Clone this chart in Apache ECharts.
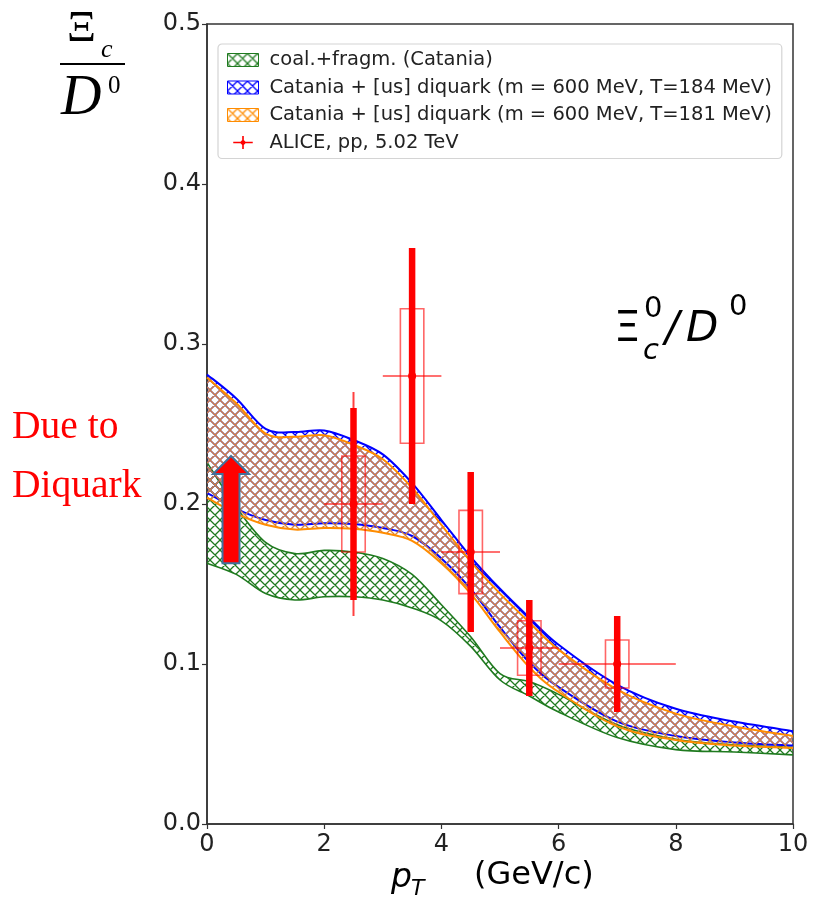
<!DOCTYPE html>
<html>
<head>
<meta charset="utf-8">
<script src="https://cdn.jsdelivr.net/npm/echarts@6/dist/echarts.min.js"></script>
<style>
  html, body { margin: 0; padding: 0; background: #fff; }
  #chart { width: 818px; height: 901px; }
</style>
</head>
<body>
<div id="chart"></div>
<script>
// pT grid (GeV/c) on which the model bands are sampled
const ptGrid = [0, 0.5, 1, 1.5, 2, 2.5, 3, 3.5, 4, 4.5, 5, 5.5, 6, 7, 8, 9, 10];

// coal.+fragm. (Catania)
const coalLow  = [0.163, 0.156, 0.144, 0.140, 0.142, 0.142, 0.140, 0.135, 0.127, 0.111, 0.090, 0.080, 0.070, 0.054, 0.0465, 0.045, 0.0432];
const coalHigh = [0.226, 0.198, 0.176, 0.169, 0.171, 0.170, 0.166, 0.156, 0.137, 0.117, 0.094, 0.089, 0.081, 0.062, 0.053, 0.0495, 0.048];

// Catania + [us] diquark, T = 184 MeV
const dq184Low  = [0.207, 0.197, 0.190, 0.187, 0.188, 0.1875, 0.185, 0.180, 0.166, 0.147, 0.123, 0.101, 0.0855, 0.064, 0.055, 0.051, 0.049];
const dq184High = [0.281, 0.266, 0.247, 0.245, 0.246, 0.240, 0.231, 0.213, 0.190, 0.167, 0.147, 0.129, 0.112, 0.087, 0.072, 0.064, 0.058];

// Catania + [us] diquark, T = 181 MeV
const dq181Low  = [0.204, 0.194, 0.187, 0.184, 0.185, 0.1845, 0.182, 0.177, 0.163, 0.144, 0.120, 0.098, 0.0825, 0.061, 0.0525, 0.049, 0.0475];
const dq181High = [0.279, 0.263, 0.244, 0.242, 0.243, 0.237, 0.228, 0.210, 0.187, 0.164, 0.144, 0.126, 0.109, 0.084, 0.069, 0.061, 0.055];

// ALICE, pp, 5.02 TeV
const alicePt     = [2.5, 3.5, 4.5, 5.5, 7.0];
const alicePtErr  = [0.5, 0.5, 0.5, 0.5, 1.0];
const aliceVal    = [0.20, 0.28, 0.17, 0.11, 0.10];
const aliceStat   = [0.06, 0.08, 0.05, 0.03, 0.03];
const aliceSyst   = [0.03, 0.042, 0.026, 0.017, 0.015];
const aliceTotal  = [0.07, 0, 0, 0, 0];

// tick labels
const xTickLabels = ['0', '2', '4', '6', '8', '10'];
const yTickLabels = ['0.0', '0.1', '0.2', '0.3', '0.4', '0.5'];

const NAME_COAL  = 'coal.+fragm. (Catania)';
const NAME_184   = 'Catania + [us] diquark (m = 600 MeV, T=184 MeV)';
const NAME_181   = 'Catania + [us] diquark (m = 600 MeV, T=181 MeV)';
const NAME_ALICE = 'ALICE, pp, 5.02 TeV';

const GREEN = '#1f7a1f', BLUE = '#0000ff', ORANGE = '#ff8c00', RED = '#ff0000';
const SYST_HALF_WIDTH = 0.2;

// cross-hatch fill ("xxx") as a repeating canvas pattern
function hatch(color) {
  const s = 10;
  const c = document.createElement('canvas');
  c.width = s; c.height = s;
  const g = c.getContext('2d');
  g.strokeStyle = color;
  g.lineWidth = 1.3;
  g.beginPath();
  for (let k = -1; k <= 1; k++) {
    g.moveTo(k * s - 1, -1); g.lineTo(k * s + s + 1, s + 1);
    g.moveTo(k * s - 1, s + 1); g.lineTo(k * s + s + 1, -1);
  }
  g.stroke();
  return { image: c, repeat: 'repeat' };
}

const fillCoal = hatch(GREEN);
const fill184 = hatch(BLUE);
const fill181 = hatch('#d8823a');       // orange hatch laid over the blue one
const swatch181 = hatch(ORANGE);

// Catmull-Rom curve through pixel points, as SVG path commands
function curve(pts, start) {
  let d = (start ? 'M' : 'L') + pts[0][0] + ',' + pts[0][1];
  for (let i = 0; i < pts.length - 1; i++) {
    const p0 = pts[i - 1] || pts[i], p1 = pts[i], p2 = pts[i + 1], p3 = pts[i + 2] || pts[i + 1];
    const c1x = p1[0] + (p2[0] - p0[0]) / 6, c1y = p1[1] + (p2[1] - p0[1]) / 6;
    const c2x = p2[0] - (p3[0] - p1[0]) / 6, c2y = p2[1] - (p3[1] - p1[1]) / 6;
    d += 'C' + c1x + ',' + c1y + ',' + c2x + ',' + c2y + ',' + p2[0] + ',' + p2[1];
  }
  return d;
}

// hatched band between two curves, edges stroked in the band colour
function bandSeries(name, low, high, color, fill, width, z) {
  return {
    name, type: 'custom', silent: true, z,
    itemStyle: { color },
    data: [[ptGrid[0], low[0]]],
    renderItem(params, api) {
      const up = ptGrid.map((x, i) => api.coord([x, high[i]]));
      const lo = ptGrid.map((x, i) => api.coord([x, low[i]]));
      const area = curve(up, true) + curve(lo.slice().reverse(), false) + 'Z';
      return {
        type: 'group',
        children: [
          { type: 'path', shape: { pathData: area }, style: { fill: fill, stroke: null } },
          { type: 'path', shape: { pathData: curve(up, true) }, style: { fill: null, stroke: color, lineWidth: width } },
          { type: 'path', shape: { pathData: curve(lo, true) }, style: { fill: null, stroke: color, lineWidth: width } }
        ]
      };
    }
  };
}

const aliceSeries = {
  name: NAME_ALICE,
  type: 'custom',
  silent: true,
  z: 5,
  itemStyle: { color: RED },
  data: alicePt.map((x, i) => [x, aliceVal[i], alicePtErr[i], aliceStat[i], aliceSyst[i], aliceTotal[i]]),
  renderItem(params, api) {
    const x = api.value(0), y = api.value(1);
    const ex = api.value(2), st = api.value(3), sy = api.value(4), tot = api.value(5);
    const c = api.coord([x, y]);
    const kids = [];
    const b1 = api.coord([x - SYST_HALF_WIDTH, y + sy]);
    const b2 = api.coord([x + SYST_HALF_WIDTH, y - sy]);
    kids.push({ type: 'rect', shape: { x: b1[0], y: b1[1], width: b2[0] - b1[0], height: b2[1] - b1[1] },
      style: { fill: 'none', stroke: 'rgba(255,0,0,0.6)', lineWidth: 1.6 } });
    const h1 = api.coord([x - ex, y]), h2 = api.coord([x + ex, y]);
    kids.push({ type: 'line', shape: { x1: h1[0], y1: h1[1], x2: h2[0], y2: h2[1] },
      style: { stroke: 'rgba(255,0,0,0.75)', lineWidth: 1.6 } });
    if (tot > 0) {
      const t1 = api.coord([x, y + tot]), t2 = api.coord([x, y - tot]);
      kids.push({ type: 'line', shape: { x1: t1[0], y1: t1[1], x2: t2[0], y2: t2[1] },
        style: { stroke: 'rgba(255,0,0,0.75)', lineWidth: 2 } });
    }
    const s1 = api.coord([x, y + st]), s2 = api.coord([x, y - st]);
    kids.push({ type: 'line', shape: { x1: s1[0], y1: s1[1], x2: s2[0], y2: s2[1] },
      style: { stroke: RED, lineWidth: 6.5 } });
    kids.push({ type: 'circle', shape: { cx: c[0], cy: c[1], r: 4 }, style: { fill: RED } });
    return { type: 'group', children: kids };
  }
};

const chart = echarts.init(document.getElementById('chart'), null, { renderer: 'canvas' });

const axisColor = '#333';
const option = {
  animation: false,
  backgroundColor: '#fff',
  grid: { left: 207, right: 25, top: 24, bottom: 77, show: true, borderColor: axisColor, borderWidth: 1.5, backgroundColor: 'transparent' },
  xAxis: {
    type: 'value', min: 0, max: 10, interval: 2,
    axisLine: { show: true, lineStyle: { color: axisColor, width: 1.5 } },
    axisTick: { show: true, inside: false, length: 5, lineStyle: { color: axisColor, width: 1.2 } },
    splitLine: { show: false },
    axisLabel: { fontFamily: 'DejaVu Sans', fontSize: 24, color: '#222', margin: 9,
      formatter: v => xTickLabels[Math.round(v / 2)] }
  },
  yAxis: {
    type: 'value', min: 0, max: 0.5, interval: 0.1,
    axisLine: { show: true, lineStyle: { color: axisColor, width: 1.5 } },
    axisTick: { show: true, inside: false, length: 5, lineStyle: { color: axisColor, width: 1.2 } },
    splitLine: { show: false },
    axisLabel: { fontFamily: 'DejaVu Sans', fontSize: 24, color: '#222', margin: 6,
      formatter: v => yTickLabels[Math.round(v * 10)] }
  },
  legend: {
    orient: 'vertical', left: 218, top: 44,
    backgroundColor: '#fff', borderColor: '#d4d4d4', borderWidth: 1.2, borderRadius: 4,
    padding: [6, 10, 6, 9], itemGap: 7.5, itemWidth: 31, itemHeight: 13,
    selectedMode: false,
    textStyle: { fontFamily: 'DejaVu Sans', fontSize: 19.5, color: '#222', padding: [0, 0, 0, 6] },
    data: [
      { name: NAME_COAL, icon: 'rect', itemStyle: { color: fillCoal, borderColor: GREEN, borderWidth: 1 } },
      { name: NAME_184, icon: 'rect', itemStyle: { color: fill184, borderColor: BLUE, borderWidth: 1 } },
      { name: NAME_181, icon: 'rect', itemStyle: { color: swatch181, borderColor: ORANGE, borderWidth: 1 } },
      { name: NAME_ALICE, icon: 'path://M0,7h24v2h-24z M11,0h2v16h-2z M12,4L16,8L12,12L8,8z', itemStyle: { color: RED } }
    ]
  },
  series: [
    bandSeries(NAME_COAL, coalLow, coalHigh, GREEN, fillCoal, 1.6, 2),
    bandSeries(NAME_184, dq184Low, dq184High, BLUE, fill184, 2, 3),
    bandSeries(NAME_181, dq181Low, dq181High, ORANGE, fill181, 2, 4),
    aliceSeries
  ]
};
chart.setOption(option);

// arrow annotation next to the y axis
const ARROW_X = 0.41, ARROW_TOP = 0.23, ARROW_BOTTOM = 0.163;
const tip = chart.convertToPixel({ gridIndex: 0 }, [ARROW_X, ARROW_TOP]);
const foot = chart.convertToPixel({ gridIndex: 0 }, [ARROW_X, ARROW_BOTTOM]);
const cx = tip[0], headBase = tip[1] + 18;

const serif = "'Liberation Serif', 'DejaVu Serif', serif";
const sans = "'DejaVu Sans', sans-serif";
function txt(text, x, y, size, opts) {
  return {
    type: 'text', z: 100,
    style: Object.assign({ text, x, y, fontSize: size, fontFamily: sans, fill: '#000', verticalAlign: 'middle', align: 'left' }, opts || {})
  };
}

chart.setOption({
  graphic: [
    {
      type: 'polygon', z: 50,
      shape: { points: [
        [cx, tip[1]], [cx + 18, headBase], [cx + 8.5, headBase], [cx + 8.5, foot[1]],
        [cx - 8.5, foot[1]], [cx - 8.5, headBase], [cx - 18, headBase]
      ] },
      style: { fill: RED, stroke: '#41719c', lineWidth: 2 }
    },
    // y-axis title: Xi_c over D^0
    txt('Ξ', 67, 29, 45, { fontFamily: serif }),
    txt('c', 101, 50, 26, { fontFamily: serif, fontStyle: 'italic' }),
    { type: 'line', z: 100, shape: { x1: 60, y1: 64, x2: 125, y2: 64 }, style: { stroke: '#000', lineWidth: 2 } },
    txt('D', 61, 99, 56, { fontFamily: serif, fontStyle: 'italic' }),
    txt('0', 108, 86, 25, { fontFamily: serif }),
    // x-axis title
    txt('p', 391, 878, 33, { fontStyle: 'italic' }),
    txt('T', 411, 889, 22, { fontStyle: 'italic' }),
    txt('(GeV/c)', 474, 876, 32),
    // side note
    txt('Due to', 12, 428, 39.5, { fontFamily: serif, fill: RED }),
    txt('Diquark', 12, 487, 39.5, { fontFamily: serif, fill: RED }),
    // ratio label inside the plot
    txt('Ξ', 614, 330, 42),
    txt('0', 644, 309, 29),
    txt('c', 643, 351, 29, { fontStyle: 'italic' }),
    txt('/', 665, 330, 42, { fontStyle: 'italic' }),
    txt('D', 686, 330, 42, { fontStyle: 'italic' }),
    txt('0', 729, 307, 29)
  ]
});
</script>
</body>
</html>
